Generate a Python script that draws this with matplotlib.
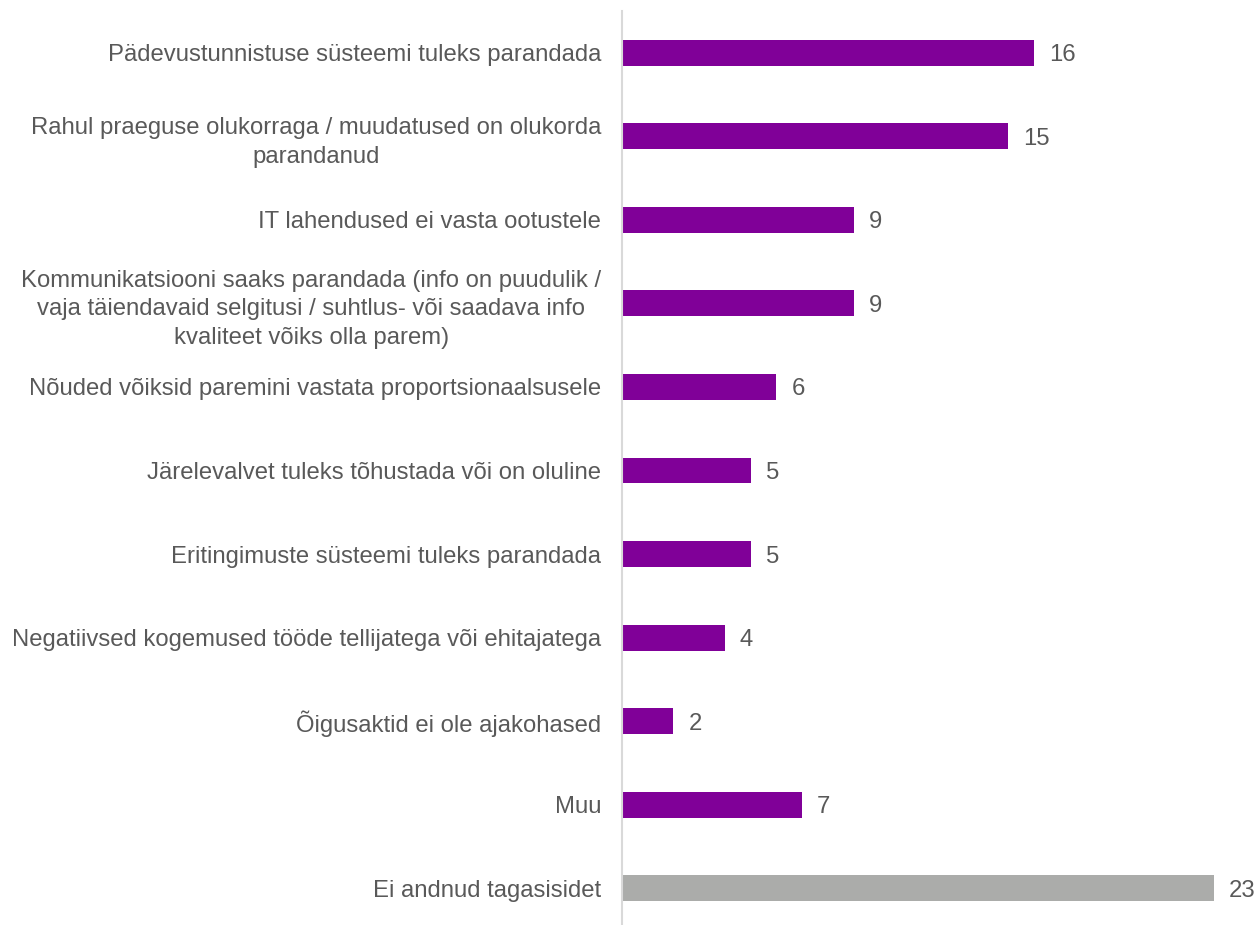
import matplotlib.pyplot as plt
import matplotlib

matplotlib.rcParams["font.family"] = ["Liberation Sans", "DejaVu Sans"]

categories = [
    "Pädevustunnistuse süsteemi tuleks parandada",
    "Rahul praeguse olukorraga / muudatused on olukorda\nparandanud",
    "IT lahendused ei vasta ootustele",
    "Kommunikatsiooni saaks parandada (info on puudulik /\nvaja täiendavaid selgitusi / suhtlus- või saadava info\nkvaliteet võiks olla parem)",
    "Nõuded võiksid paremini vastata proportsionaalsusele",
    "Järelevalvet tuleks tõhustada või on oluline",
    "Eritingimuste süsteemi tuleks parandada",
    "Negatiivsed kogemused tööde tellijatega või ehitajatega",
    "Õigusaktid ei ole ajakohased",
    "Muu",
    "Ei andnud tagasisidet",
]
values = [16, 15, 9, 9, 6, 5, 5, 4, 2, 7, 23]
colors = ["#800098"] * 10 + ["#ABACAA"]

fig = plt.figure(figsize=(12.59, 9.25), dpi=100)
ax = fig.add_axes([622 / 1259, 0, 1 - 622 / 1259, 1 - 11 / 925])

y = list(range(len(categories)))
ax.barh(y, values, height=0.31, color=colors)
for yi, v in zip(y, values):
    ax.annotate(str(v), (v, yi), xytext=(15, 0), textcoords="offset pixels",
                va="center_baseline", ha="left", fontsize=17.2, color="#595959")

ax.set_xlim(0, (1259 - 622) / 25.74)
ax.set_ylim(10.44, -0.5)
ax.set_yticks(y)
ax.set_yticklabels(categories, fontsize=17.2, color="#595959", linespacing=1.4)
for lab in ax.get_yticklabels():
    lab.set_multialignment("center")
ax.tick_params(axis="y", length=0, pad=15)
ax.set_xticks([])
for s in ["top", "right", "bottom"]:
    ax.spines[s].set_visible(False)
ax.spines["left"].set_color("#D9D9D9")
ax.spines["left"].set_linewidth(1.5)

fig.savefig("out.png", dpi=100)
